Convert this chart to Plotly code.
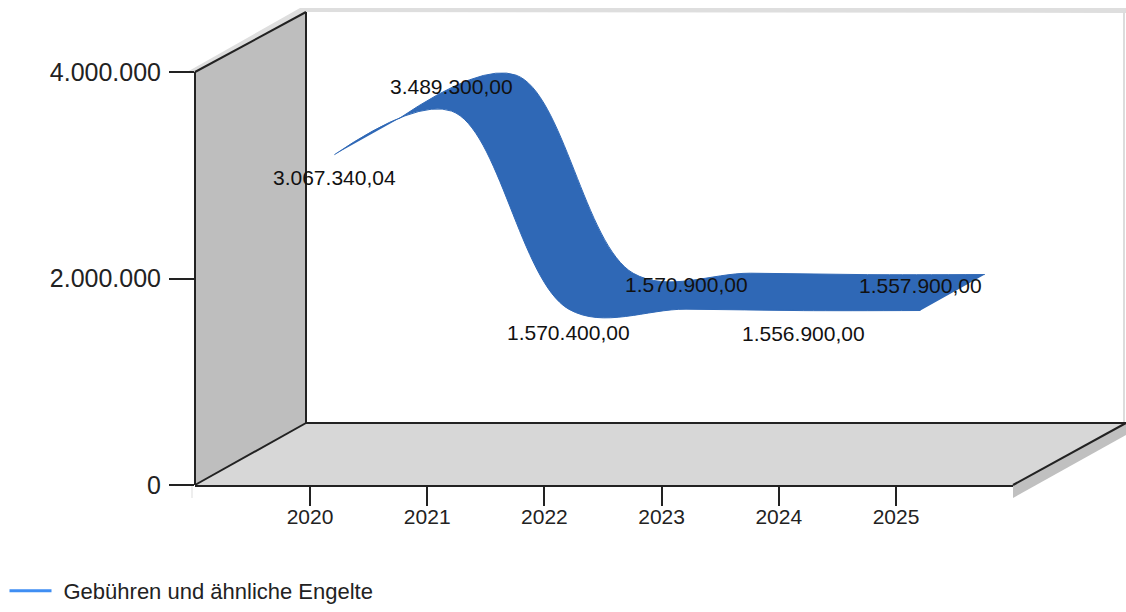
import plotly.graph_objects as go

YEARS = [2020, 2021, 2022, 2023, 2024, 2025]
VALUES = [3067340.04, 3489300.00, 1570400.00, 1570900.00, 1556900.00, 1557900.00]
LABEL_SIDE = ["below", "above", "below", "above", "below", "above"]
SERIES_NAME = "Gebühren und ähnliche Engelte"
Y_TICKS = [0, 2000000, 4000000]

W, H = 1126, 612
MARGIN_B = 80
PLOT_H = H - MARGIN_B
PX_YEAR = 117.2
PX_VALUE = 206.5 / 2000000
X0_PX, Y0_PX = 310, 485
LEFT_PX, RIGHT_PX, TOP_PX = 195, 1013, 72
DEPTH_DX, DEPTH_DY = 111, 62
RIBBON_NEAR, RIBBON_FAR = 0.22, 0.80
SMOOTHING = 1.0


def to_x(px):
    return YEARS[0] + (px - X0_PX) / PX_YEAR


def to_y(px):
    return (Y0_PX - px) / PX_VALUE


def depth_x(x, d):
    return x + d * DEPTH_DX / PX_YEAR


def depth_y(y, d):
    return y + d * DEPTH_DY / PX_VALUE


def german(v):
    return f"{v:,.2f}".replace(",", "#").replace(".", ",").replace("#", ".")


def py(y):
    return 1 - y / PLOT_H


def poly(points, fill, line=None, width=0):
    path = "M " + " L ".join(f"{x / W:.5f},{py(y):.5f}" for x, y in points) + " Z"
    return dict(type="path", path=path, xref="paper", yref="paper", fillcolor=fill,
                line=dict(color=line or fill, width=width), layer="below")


def seg(x1, y1, x2, y2, color="#222222", width=2):
    return dict(type="line", x0=x1 / W, y0=py(y1), x1=x2 / W, y1=py(y2),
                xref="paper", yref="paper", line=dict(color=color, width=width), layer="below")


BL = (LEFT_PX, Y0_PX)
TL = (LEFT_PX, TOP_PX)
BK = (LEFT_PX + DEPTH_DX, Y0_PX - DEPTH_DY)
TK = (LEFT_PX + DEPTH_DX, TOP_PX - 60)
FR = (RIGHT_PX, Y0_PX)
BR = (RIGHT_PX + 113, Y0_PX - DEPTH_DY)

shapes = [
    poly([(LEFT_PX - 8, TOP_PX), (TK[0] - 6, TK[1] - 4), (W, TK[1] - 4), (W, TK[1] + 1), TK, TL], "#DEDEDE"),
    seg(W - 2, TK[1], W - 2, BK[1], "#DCDCDC", 2),
    poly([FR, BR, (BR[0], BR[1] + 12), (FR[0], FR[1] + 13)], "#C0C0C0"),
    seg(LEFT_PX - 3, Y0_PX, LEFT_PX - 3, Y0_PX + 13, "#EEEEEE", 2),
    poly([BL, TL, TK, BK], "#BEBEBE"),
    poly([BL, BK, BR, FR], "#D7D7D7"),
    seg(*TL, *TK),
    seg(*BL, *BK),
    seg(*TK, *BK),
    seg(*BK, *BR),
    seg(*FR, *BR),
    seg(LEFT_PX, TOP_PX, LEFT_PX, Y0_PX),
]

near_x = [depth_x(x, RIBBON_NEAR) for x in YEARS]
near_y = [depth_y(y, RIBBON_NEAR) for y in VALUES]
far_x = [depth_x(x, RIBBON_FAR) for x in YEARS]
far_y = [depth_y(y, RIBBON_FAR) for y in VALUES]

fig = go.Figure()
fig.add_trace(go.Scatter(x=near_x, y=near_y, mode="lines", showlegend=False, hoverinfo="skip",
                         line=dict(color="#2F68B6", width=1, shape="spline", smoothing=SMOOTHING),
                         cliponaxis=False))
fig.add_trace(go.Scatter(x=far_x, y=far_y, mode="lines", showlegend=False, hoverinfo="skip",
                         fill="tonexty", fillcolor="#2F68B6",
                         line=dict(color="#2F68B6", width=1, shape="spline", smoothing=SMOOTHING),
                         cliponaxis=False))
fig.add_trace(go.Scatter(x=[None], y=[None], mode="lines", name=SERIES_NAME,
                         line=dict(color="#3F8EF3", width=3, dash="42px,200px")))

annotations = [
    dict(x=nx, y=ny, text=german(v), showarrow=False, xref="x", yref="y",
         yshift=-23 if side == "below" else 25,
         font=dict(family="Liberation Sans", size=21, color="#111111"))
    for nx, ny, v, side in zip(near_x, near_y, VALUES, LABEL_SIDE)
]

fig.update_layout(
    width=W, height=H, autosize=False,
    margin=dict(l=0, r=0, t=0, b=MARGIN_B, pad=0),
    paper_bgcolor="white", plot_bgcolor="rgba(0,0,0,0)",
    separators=",.",
    shapes=shapes,
    annotations=annotations,
    font=dict(family="Liberation Sans", color="#222222"),
    xaxis=dict(domain=[LEFT_PX / W, RIGHT_PX / W], range=[to_x(LEFT_PX), to_x(RIGHT_PX)],
               tickmode="array", tickvals=YEARS, ticktext=[str(y) for y in YEARS],
               ticks="outside", ticklen=19, tickwidth=2, tickcolor="#222222", automargin=False,
               showline=True, linecolor="#222222", linewidth=2, showgrid=False, zeroline=False,
               tickfont=dict(size=21, color="#222222"), anchor="y", ticklabelstandoff=-7),
    yaxis=dict(domain=[py(Y0_PX), py(TOP_PX)], range=[0, to_y(TOP_PX)],
               tickmode="array", tickvals=Y_TICKS, tickformat=",d", automargin=False,
               ticks="outside", ticklen=25, tickwidth=2, tickcolor="#222222",
               showline=False, showgrid=False, zeroline=False,
               tickfont=dict(size=25, color="#222222"), anchor="x", ticklabelstandoff=3),
    legend=dict(x=0.004, y=py(H), xanchor="left", yanchor="bottom", itemwidth=49,
                bgcolor="rgba(0,0,0,0)", font=dict(size=22, color="#222222")),
)

fig.write_html("out.html", config={"displayModeBar": False},
               post_script="document.body.style.margin='0';")
